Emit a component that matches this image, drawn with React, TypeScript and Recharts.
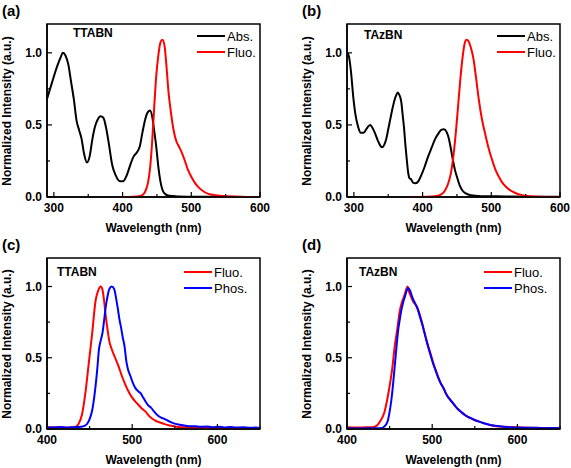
import React from 'react';
import { LineChart, Line, XAxis, YAxis, ReferenceArea } from 'recharts';

// wavelength (nm), normalized intensity
const ttabnAbs: [number, number][] = [
  [290, 0.68], [297, 0.79], [305, 0.91], [310, 0.97], [313, 1.0], [317, 0.98], [321, 0.92], [325, 0.8],
  [329, 0.68], [333, 0.53], [337, 0.46], [340, 0.41], [344, 0.3], [348, 0.24], [352, 0.28], [356, 0.4],
  [360, 0.49], [364, 0.54], [368, 0.56], [372, 0.55], [376, 0.48], [380, 0.37], [385, 0.22], [390, 0.15],
  [396, 0.11], [401, 0.11], [406, 0.15], [411, 0.22], [416, 0.28], [421, 0.31], [425, 0.35], [429, 0.45],
  [433, 0.54], [437, 0.59], [440, 0.6], [443, 0.56], [446, 0.46], [449, 0.35], [452, 0.21], [455, 0.11],
  [458, 0.05], [462, 0.02], [468, 0.008], [480, 0.004], [520, 0.002], [560, 0.001], [600, 0],
];
const ttabnFluoA: [number, number][] = [
  [400, 0], [415, 0.002], [424, 0.006], [430, 0.018], [434, 0.05], [437, 0.1], [440, 0.2], [443, 0.38],
  [446, 0.62], [449, 0.84], [452, 0.98], [455, 1.07], [458, 1.09], [461, 1.05], [464, 0.9], [467, 0.72],
  [470, 0.6], [474, 0.47], [478, 0.39], [482, 0.35], [486, 0.31], [490, 0.26], [495, 0.19], [500, 0.14],
  [505, 0.1], [511, 0.065], [518, 0.038], [525, 0.022], [535, 0.012], [550, 0.005], [570, 0.002], [600, 0],
];
const tazbnAbs: [number, number][] = [
  [291, 1.0], [293, 0.97], [296, 0.86], [299, 0.7], [302, 0.58], [306, 0.49], [310, 0.445], [314, 0.445],
  [318, 0.47], [321, 0.49], [324, 0.5], [327, 0.48], [331, 0.44], [335, 0.39], [338, 0.36], [341, 0.345],
  [344, 0.36], [347, 0.4], [350, 0.47], [353, 0.54], [356, 0.61], [359, 0.67], [362, 0.71], [364, 0.725],
  [366, 0.71], [369, 0.66], [371, 0.57], [373, 0.48], [375, 0.36], [377, 0.26], [379, 0.17], [381, 0.13],
  [383, 0.125], [386, 0.1], [390, 0.095], [394, 0.11], [398, 0.15], [403, 0.21], [408, 0.28], [413, 0.34],
  [418, 0.4], [423, 0.44], [427, 0.465], [431, 0.47], [435, 0.45], [438, 0.41], [441, 0.34], [444, 0.26],
  [447, 0.19], [450, 0.14], [454, 0.08], [458, 0.045], [463, 0.025], [470, 0.012], [485, 0.006],
  [520, 0.004], [560, 0.002], [600, 0.001],
];
const tazbnFluoB: [number, number][] = [
  [384, 0], [405, 0.002], [418, 0.005], [426, 0.015], [432, 0.04], [437, 0.09], [441, 0.16], [445, 0.29],
  [449, 0.48], [452, 0.65], [455, 0.82], [458, 0.96], [461, 1.06], [464, 1.09], [467, 1.08], [470, 1.04],
  [474, 0.96], [478, 0.82], [482, 0.67], [486, 0.55], [491, 0.44], [496, 0.34], [501, 0.26], [506, 0.19],
  [511, 0.14], [516, 0.1], [522, 0.068], [528, 0.045], [535, 0.028], [545, 0.013], [555, 0.006],
  [570, 0.002], [600, 0],
];
const ttabnFluoC: [number, number][] = [
  [400, 0.01], [410, 0.012], [420, 0.008], [428, 0.012], [433, 0.015], [437, 0.035], [441, 0.1], [445, 0.25],
  [449, 0.46], [453, 0.67], [457, 0.9], [460, 0.97], [463, 1.0], [465, 0.98], [467, 0.9], [469, 0.79],
  [471, 0.7], [473, 0.62], [476, 0.56], [480, 0.5], [484, 0.44], [488, 0.37], [492, 0.31], [496, 0.26],
  [500, 0.22], [504, 0.19], [508, 0.165], [512, 0.14], [516, 0.12], [520, 0.09], [524, 0.07], [528, 0.056],
  [532, 0.047], [538, 0.034], [544, 0.024], [552, 0.016], [560, 0.012], [570, 0.009], [580, 0.007],
  [595, 0.008], [610, 0.005], [625, 0.004], [640, 0.003], [650, 0.002],
];
const ttabnPhos: [number, number][] = [
  [400, 0.012], [408, 0.01], [416, 0.014], [424, 0.011], [432, 0.013], [440, 0.016], [444, 0.022],
  [447, 0.035], [450, 0.07], [453, 0.13], [456, 0.25], [459, 0.42], [461, 0.56], [463, 0.62], [465, 0.67],
  [467, 0.76], [469, 0.86], [471, 0.93], [473, 0.98], [476, 1.0], [479, 0.98], [481, 0.92], [483, 0.85],
  [485, 0.77], [487, 0.71], [489, 0.64], [491, 0.58], [493, 0.48], [495, 0.42], [498, 0.37], [501, 0.32],
  [504, 0.285], [507, 0.265], [510, 0.25], [513, 0.22], [516, 0.19], [519, 0.165], [522, 0.15], [526, 0.12],
  [530, 0.095], [534, 0.08], [538, 0.07], [542, 0.058], [546, 0.047], [551, 0.036], [556, 0.03],
  [561, 0.024], [567, 0.019], [574, 0.02], [580, 0.015], [587, 0.018], [594, 0.013], [601, 0.016],
  [608, 0.011], [615, 0.014], [622, 0.01], [630, 0.012], [638, 0.008], [645, 0.01], [650, 0.007],
];
const tazbnFluoD: [number, number][] = [
  [400, 0.012], [412, 0.01], [422, 0.012], [430, 0.013], [435, 0.024], [440, 0.065], [444, 0.12], [447, 0.2],
  [450, 0.3], [453, 0.42], [456, 0.58], [459, 0.7], [462, 0.83], [465, 0.9], [467, 0.93], [469, 0.97],
  [471, 1.0], [473, 0.96], [475, 0.93], [478, 0.89], [481, 0.87], [484, 0.83], [487, 0.77], [490, 0.7],
  [493, 0.63], [496, 0.57], [499, 0.51], [502, 0.45], [505, 0.4], [508, 0.35], [511, 0.31], [514, 0.28],
  [517, 0.24], [520, 0.215], [523, 0.19], [527, 0.16], [531, 0.135], [535, 0.115], [539, 0.095],
  [543, 0.082], [547, 0.07], [551, 0.06], [556, 0.05], [562, 0.038], [568, 0.028], [575, 0.02],
  [585, 0.015], [600, 0.012], [615, 0.009], [630, 0.007], [650, 0.005],
];
const tazbnPhos: [number, number][] = [
  [400, 0.005], [415, 0.004], [430, 0.005], [437, 0.005], [442, 0.01], [445, 0.025], [448, 0.06], [450, 0.12],
  [452, 0.2], [454, 0.31], [456, 0.44], [458, 0.57], [460, 0.69], [462, 0.77], [464, 0.84], [466, 0.89],
  [468, 0.93], [470, 0.97], [472, 0.99], [474, 0.97], [477, 0.92], [480, 0.88], [483, 0.84], [486, 0.78],
  [489, 0.72], [492, 0.65], [495, 0.58], [498, 0.52], [501, 0.46], [504, 0.41], [507, 0.36], [510, 0.32],
  [513, 0.29], [516, 0.25], [519, 0.22], [522, 0.2], [526, 0.17], [530, 0.14], [534, 0.12], [538, 0.1],
  [542, 0.085], [546, 0.075], [550, 0.063], [555, 0.052], [560, 0.042], [566, 0.032], [572, 0.024],
  [579, 0.019], [586, 0.014], [594, 0.012], [602, 0.01], [612, 0.008], [622, 0.009], [632, 0.006],
  [642, 0.007], [650, 0.005],
];

const absTicks = [300, 350, 400, 450, 500, 550, 600];
const emTicks = [400, 450, 500, 550, 600, 650];
const yTicks = [0, 0.25, 0.5, 0.75, 1.0];

const FONT = '"Liberation Sans", Arial, sans-serif';
const BLACK = '#000000';
const RED = '#ff0000';
const BLUE = '#0000ff';

const toPts = (arr: [number, number][]) => arr.map(([x, y]) => ({ x, y }));

function XTick(props: any) {
  const { x, y, payload } = props;
  const v = payload.value;
  const major = v % 100 === 0;
  return (
    <g>
      <line x1={x} x2={x} y1={y} y2={y - (major ? 5 : 3)} stroke="#000" strokeWidth={1.2} />
      {major && (
        <text x={x} y={y + 11} textAnchor="middle" dominantBaseline="central"
          fontFamily={FONT} fontWeight="bold" fontSize={12} fill="#000">{v}</text>
      )}
    </g>
  );
}

function YTick(props: any) {
  const { x, y, payload } = props;
  const v = payload.value;
  const major = Math.abs(v * 2 - Math.round(v * 2)) < 1e-6;
  return (
    <g>
      <line x1={x} x2={x + (major ? 5 : 3)} y1={y} y2={y} stroke="#000" strokeWidth={1.2} />
      {major && (
        <text x={x - 5} y={y} textAnchor="end" dominantBaseline="central"
          fontFamily={FONT} fontWeight="bold" fontSize={12} fill="#000">{v.toFixed(1)}</text>
      )}
    </g>
  );
}

function Txt({ x, y, size = 12, bold = true, anchor = 'start', rotate = false, children }: any) {
  const tx = anchor === 'middle' ? '-50%' : '0';
  return (
    <div style={{
      position: 'absolute', left: x, top: y, whiteSpace: 'nowrap', lineHeight: 1,
      fontFamily: FONT, fontSize: size, fontWeight: bold ? 'bold' : 'normal', color: '#000',
      transform: rotate ? 'translate(-50%, -50%) rotate(-90deg)' : `translate(${tx}, -50%)`,
    }}>{children}</div>
  );
}

interface Series { name: string; color: string; pts: [number, number][] }

interface PanelProps {
  ox: number; oy: number; tag: string; name: string; nameX: number; nameY: number;
  domain: [number, number]; ticks: number[]; series: Series[];
  legX: number; legY: number; xAxisH: number;
}

function Panel({ ox, oy, tag, name, nameX, nameY, domain, ticks, series, legX, legY, xAxisH }: PanelProps) {
  const W = 271;
  const H = 234;
  const plotTop = 24;
  const plotBottom = H - xAxisH;
  return (
    <div style={{ position: 'absolute', left: ox, top: oy, width: W, height: H }}>
      <LineChart width={W} height={H} margin={{ top: plotTop, right: 11, left: 0, bottom: 0 }}>
        <XAxis type="number" dataKey="x" domain={domain} ticks={ticks} interval={0} height={xAxisH}
          tickSize={0} tickMargin={0} tick={<XTick />} tickLine={false}
          axisLine={{ stroke: '#000', strokeWidth: 1.5 }} allowDataOverflow />
        <YAxis type="number" dataKey="y" domain={[0, 1.2]} ticks={yTicks} interval={0} width={47}
          tickSize={0} tickMargin={0} tick={<YTick />} tickLine={false}
          axisLine={{ stroke: '#000', strokeWidth: 1.5 }} allowDataOverflow />
        <ReferenceArea x1={domain[0]} x2={domain[1]} y1={0} y2={1.2} fill="none" fillOpacity={0}
          stroke="#000" strokeWidth={1.5} />
        {series.map((s) => (
          <Line key={s.name} data={toPts(s.pts)} dataKey="y" type="monotone" stroke={s.color}
            strokeWidth={2} dot={false} isAnimationActive={false} />
        ))}
      </LineChart>
      <Txt x={2} y={10} size={15}>{tag}</Txt>
      <Txt x={nameX} y={nameY}>{name}</Txt>
      {series.map((s, i) => (
        <div key={s.name}>
          <div style={{ position: 'absolute', left: legX, top: legY + i * 16 - 1, width: 28, height: 2, background: s.color }} />
          <Txt x={legX + 30} y={legY + i * 16} size={13} bold={false}>{s.name}</Txt>
        </div>
      ))}
      <Txt x={7} y={(plotTop + plotBottom) / 2} rotate anchor="middle">Normalized Intensity (a.u.)</Txt>
      <Txt x={153.5} y={plotBottom + 31} anchor="middle">Wavelength (nm)</Txt>
    </div>
  );
}

export default function App() {
  return (
    <div style={{ position: 'absolute', left: 0, top: 0, width: 571, height: 468, background: '#fff', overflow: 'hidden' }}>
      <Panel ox={0} oy={0} tag="(a)" name="TTABN" nameX={73} nameY={33} domain={[290, 600]} ticks={absTicks}
        legX={197} legY={36} xAxisH={37}
        series={[{ name: 'Abs.', color: BLACK, pts: ttabnAbs }, { name: 'Fluo.', color: RED, pts: ttabnFluoA }]} />
      <Panel ox={300} oy={0} tag="(b)" name="TAzBN" nameX={64} nameY={35} domain={[290, 600]} ticks={absTicks}
        legX={197} legY={36} xAxisH={37}
        series={[{ name: 'Abs.', color: BLACK, pts: tazbnAbs }, { name: 'Fluo.', color: RED, pts: tazbnFluoB }]} />
      <Panel ox={0} oy={234} tag="(c)" name="TTABN" nameX={57} nameY={38} domain={[400, 650]} ticks={emTicks}
        legX={184} legY={38} xAxisH={39}
        series={[{ name: 'Fluo.', color: RED, pts: ttabnFluoC }, { name: 'Phos.', color: BLUE, pts: ttabnPhos }]} />
      <Panel ox={300} oy={234} tag="(d)" name="TAzBN" nameX={59} nameY={38} domain={[400, 650]} ticks={emTicks}
        legX={184} legY={38} xAxisH={39}
        series={[{ name: 'Fluo.', color: RED, pts: tazbnFluoD }, { name: 'Phos.', color: BLUE, pts: tazbnPhos }]} />
    </div>
  );
}
